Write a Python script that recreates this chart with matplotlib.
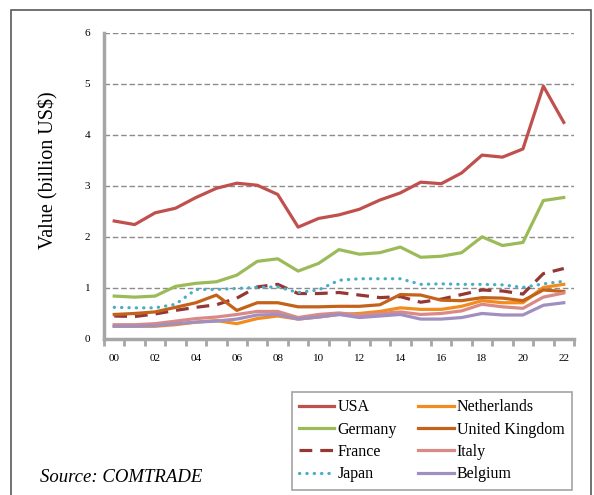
import matplotlib.pyplot as plt
from matplotlib.patches import Rectangle

plt.rcParams['font.family'] = ['Liberation Serif', 'DejaVu Serif']

# Exports by destination, 2000-2022 (billion US$)
years = ['00', '01', '02', '03', '04', '05', '06', '07', '08', '09', '10', '11',
         '12', '13', '14', '15', '16', '17', '18', '19', '20', '21', '22']

usa = [2.31, 2.24, 2.47, 2.56, 2.77, 2.95, 3.05, 3.01, 2.83, 2.19, 2.36, 2.43,
       2.54, 2.72, 2.86, 3.07, 3.04, 3.25, 3.60, 3.56, 3.72, 4.95, 4.24]
germany = [0.84, 0.82, 0.84, 1.03, 1.09, 1.12, 1.25, 1.52, 1.57, 1.33, 1.48, 1.75,
           1.66, 1.69, 1.80, 1.60, 1.62, 1.69, 2.00, 1.83, 1.89, 2.71, 2.77]
france = [0.45, 0.44, 0.49, 0.56, 0.62, 0.67, 0.80, 1.02, 1.07, 0.89, 0.89, 0.91,
          0.86, 0.81, 0.83, 0.72, 0.78, 0.87, 0.96, 0.94, 0.88, 1.28, 1.38]
japan = [0.62, 0.61, 0.61, 0.68, 0.97, 0.97, 0.99, 1.01, 1.02, 0.91, 0.96, 1.15,
         1.18, 1.18, 1.18, 1.07, 1.08, 1.07, 1.07, 1.06, 1.01, 1.08, 1.13]
netherlands = [0.25, 0.25, 0.25, 0.28, 0.33, 0.36, 0.30, 0.40, 0.45, 0.39, 0.43, 0.48,
               0.50, 0.54, 0.61, 0.58, 0.58, 0.64, 0.75, 0.71, 0.71, 1.01, 1.07]
uk = [0.48, 0.50, 0.53, 0.62, 0.71, 0.86, 0.56, 0.71, 0.71, 0.63, 0.63, 0.64,
      0.64, 0.67, 0.87, 0.86, 0.76, 0.75, 0.81, 0.80, 0.75, 0.96, 0.93]
italy = [0.28, 0.28, 0.30, 0.35, 0.40, 0.43, 0.48, 0.54, 0.54, 0.42, 0.48, 0.51,
         0.47, 0.50, 0.53, 0.48, 0.50, 0.55, 0.68, 0.63, 0.60, 0.82, 0.90]
belgium = [0.25, 0.25, 0.26, 0.30, 0.33, 0.35, 0.39, 0.47, 0.48, 0.39, 0.43, 0.48,
           0.42, 0.45, 0.48, 0.39, 0.39, 0.42, 0.50, 0.47, 0.47, 0.66, 0.71]

x = list(range(len(years)))

fig = plt.figure(figsize=(5.94, 4.95), dpi=100)
ax = fig.add_axes([104 / 594, 1 - 339 / 495, 470 / 594, 306.5 / 495])

# outer frame around the whole figure
fig.patches.append(Rectangle((11 / 594, -0.05), 580 / 594, 1 - 10 / 495 + 0.05,
                             transform=fig.transFigure, fill=False,
                             edgecolor='#595959', linewidth=1.2))

lw = 2.3
ax.plot(x, usa, color='#c0504d', lw=lw, label='USA')
ax.plot(x, germany, color='#9bbb59', lw=lw, label='Germany')
ax.plot(x, france, color='#953735', lw=lw, ls=(0, (4, 2.5)), label='France')
ax.plot(x, japan, color='#4bacc6', lw=lw, ls=(0, (0.1, 2.2)),
        dash_capstyle='round', label='Japan')
ax.plot(x, netherlands, color='#f28c1e', lw=lw, label='Netherlands')
ax.plot(x, uk, color='#c4621a', lw=lw, label='United Kingdom')
ax.plot(x, italy, color='#d98a86', lw=lw, label='Italy')
ax.plot(x, belgium, color='#a08fc0', lw=lw, label='Belgium')

ax.set_xlim(-0.5, len(years) - 0.5)
ax.set_ylim(0, 6)
ax.set_yticks(range(0, 7))
ax.yaxis.grid(True, color='#8c8c8c', ls=(0, (4, 2)), lw=1)
ax.set_axisbelow(True)

# category labels every other year, tick marks between categories
ax.set_xticks(x[::2])
ax.set_xticklabels(years[::2], fontsize=8)
ax.set_xticks([i - 0.5 for i in range(len(years) + 1)], minor=True)
ax.tick_params(axis='x', which='major', length=0, pad=11)
ax.tick_params(axis='x', which='minor', length=5, width=2, color='#a6a6a6')
ax.tick_params(axis='y', length=0, labelsize=8, pad=10)

for side in ['top', 'right']:
    ax.spines[side].set_visible(False)
for side in ['left', 'bottom']:
    ax.spines[side].set_color('#a6a6a6')
    ax.spines[side].set_linewidth(2.5)

ax.set_ylabel('Value (billion US$)', fontsize=14.5)
ax.yaxis.set_label_coords(-0.096, 0.551)

h, l = ax.get_legend_handles_labels()
leg = fig.legend(h, l, ncol=2, loc='upper left', bbox_to_anchor=(292 / 594, 1 - 392 / 495),
                 borderaxespad=0, fontsize=11.5, frameon=True, fancybox=False,
                 edgecolor='#8c8c8c', handlelength=2.2, handletextpad=0.2,
                 columnspacing=1.35, labelspacing=0.4, borderpad=0.45)
leg.get_frame().set_linewidth(1.2)

fig.text(40 / 594, 1 - 478 / 495, 'Source: COMTRADE', fontsize=13.5,
         style='italic', va='center')

fig.savefig('out.png', dpi=100)
